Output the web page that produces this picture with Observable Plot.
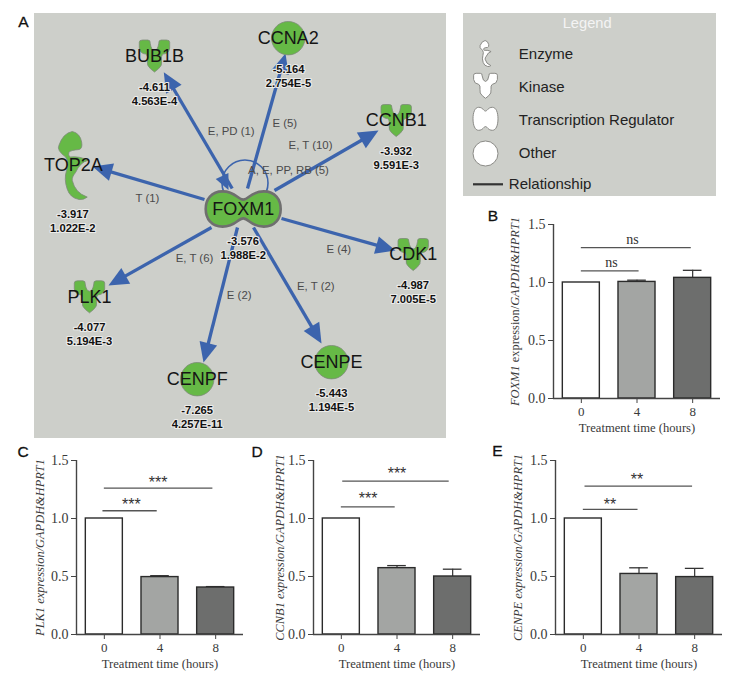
<!DOCTYPE html>
<html><head><meta charset="utf-8">
<script src="https://cdn.jsdelivr.net/npm/d3@7"></script>
<script src="https://cdn.jsdelivr.net/npm/@observablehq/plot@0.6"></script>
<style>
html,body{margin:0;padding:0;background:#fff}
#root{position:relative;width:734px;height:682px;overflow:hidden}
#root>svg,#root>div{position:absolute}
.letter{font:15.5px "Liberation Sans";color:#111;transform:translate(-50%,-50%);-webkit-text-stroke:.3px #111}
</style></head><body><div id="root"></div>
<script>
// ---- Network data (layout) ----
const nodeNames = ["BUB1B","CCNA2","CCNB1","TOP2A","PLK1","CDK1","CENPF","CENPE","FOXM1"];
const nodeType  = ["kinase","other","kinase","enzyme","kinase","kinase","other","other","tf"];
const nodeX = [154,287.7,395.7,72.8,89,412.7,196.7,331,242.7];
const nodeY = [55.5,37.7,120,165,296.3,254,378.7,361.7,208.5];
const foldChange = ["-4.611","-5.164","-3.932","-3.917","-4.077","-4.987","-7.265","-5.443","-3.576"];
const pValue = ["4.563E-4","2.754E-5","9.591E-3","1.022E-2","5.194E-3","7.005E-5","4.257E-11","1.194E-5","1.988E-2"];
const valueX = [154,288,395.7,72.3,89,412.7,196.7,331,242.7];
const valueY = [86.7,69.3,151,214,327.3,285.3,410,393.3,240.7];
const edgeTailX = [231.7,247,274,204,211,281,237,253];
const edgeTailY = [188,188,190,199,227,218,227,227];
const edgeTipX  = [163.3,285,378,92,108,395,203,321];
const edgeTipY  = [71.7,53,130,166,285,250,362,343];
const edgeLabels = ["E, PD (1)","E (5)","E, T (10)","A, E, PP, RB (5)","T (1)","E, T (6)","E (2)","E, T (2)","E (4)"];
const edgeLabelX = [230.7,284.3,310,288,147,194,238.7,315.3,338.3];
const edgeLabelY = [131.3,123,145.3,170.3,198,258.3,294.7,285.7,249];
const loopCenter = [244.5,182.5];
const loopHead = [228,189.5,220,172]; // tip x,y and a point the head comes from

// ---- Legend ----
const legendItems = ["Enzyme","Kinase","Transcription Regulator","Other"];
const legendKinds = ["enzyme","kinase","tfLegend","other"];
const legendY = [53.3,86.7,119.3,152.7];
const legendIconY = [52.7,85,118,152.7];

// ---- Bar panels ----
const hours = [0,4,8];
const fills = ["#ffffff","#a3a5a3","#6d6e6d"];
const panelB = {means:[1,1.005,1.04], errs:[0,0.015,0.065]};
const panelC = {means:[1,0.495,0.405], errs:[0,0.012,0.008]};
const panelD = {means:[1,0.572,0.5], errs:[0,0.022,0.063]};
const panelE = {means:[1,0.522,0.495], errs:[0,0.053,0.075]};
const bracketsB = [[0,4.15,1.1],[0,7.9,1.3]];
const bracketsC = [[-0.1,3.8,1.067],[0,7.8,1.262]];
const bracketsD = [[0,3.87,1.101],[0.1,7.75,1.322]];
const bracketsE = [[0,3.93,1.078],[0.12,7.85,1.279]];
const sigB = [["ns",2.16,1.17],["ns",3.67,1.371]];
const sigC = [["***",1.94,1.141],["***",3.86,1.336]];
const sigD = [["***",1.92,1.193],["***",4,1.408]];
const sigE = [["**",1.92,1.147],["**",3.86,1.357]];
const yTicks = [0,0.5,1,1.5];
const xTitle = "Treatment time (hours)";

// ---- Symbols ----
const root = document.getElementById("root");
function sym(fn){return {draw(c,size){fn(c,Math.sqrt(size/Math.PI));}};}
const kinase = sym((c,r)=>{
  const q=(a,b,x,y)=>c.quadraticCurveTo(a*r,b*r,x*r,y*r);
  c.moveTo(-.95*r,-.85*r);q(-.95,-1,-.75,-1);c.lineTo(-.42*r,-1*r);q(-.25,-1,-.27,-.8);q(-.2,-.35,0,-.35);
  q(.2,-.35,.27,-.8);q(.25,-1,.42,-1);c.lineTo(.75*r,-1*r);q(.95,-1,.95,-.85);c.lineTo(.95*r,-.5*r);
  q(.9,-.15,.55,-.12);q(.4,-.05,.44,.3);q(.5,.6,.25,.8);c.lineTo(0,r);c.lineTo(-.25*r,.8*r);
  q(-.5,.6,-.44,.3);q(-.4,-.05,-.55,-.12);q(-.9,-.15,-.95,-.5);c.closePath();
});
const enzyme = sym((c,r)=>{
  const q=(a,b,x,y)=>c.quadraticCurveTo(a*r,b*r,x*r,y*r);
  c.moveTo(-.03*r,-1*r);q(.2,-.95,.245,-.69);q(.28,-.5,.17,-.47);q(-.08,-.45,-.13,-.39);
  q(-.16,-.3,-.1,-.25);q(.2,-.28,.43,-.15);q(.2,-.1,.07,.2);q(-.05,.35,-.03,.44);q(.05,.8,.41,.93);
  q(.3,1.02,.17,1);q(-.1,.95,-.18,.69);q(-.28,.4,-.2,.15);q(-.12,-.1,-.225,-.25);q(-.5,-.45,-.42,-.6);q(-.3,-.95,-.03,-1);c.closePath();
});
function peanut(h,n){return sym((c,r)=>{
  const b=(a,d,e,f,x,y)=>c.bezierCurveTo(a*r,d*r,e*r,f*r,x*r,y*r);
  c.moveTo(0,-n*r);b(.15,-n,.2,-h,.55,-h);b(.85,-h,1,-h*.55,1,0);b(1,h*.55,.85,h,.55,h);b(.2,h,.15,n,0,n);
  b(-.15,n,-.2,h,-.55,h);b(-.85,h,-1,h*.55,-1,0);b(-1,-h*.55,-.85,-h,-.55,-h);b(-.2,-h,-.15,-n,0,-n);c.closePath();
});}
const foxm1Shape = peanut(.47,.25), tfLegend = peanut(.92,.62);
const head = sym((c,r)=>{c.moveTo(0,0);c.lineTo(-.5*r,1.1*r);c.lineTo(.5*r,1.1*r);c.closePath();});
const smallHead = head;
const idx = nodeNames.map((_,i)=>i);
const GREEN="#66b946", OUT="#7d8a78", BLUE="#3c64ad";

// ---- Panel A ----
function nodeMark(kind,symbol,r,extra={}){
  return Plot.dot(idx.filter(i=>nodeType[i]===kind),{x:i=>nodeX[i],y:i=>nodeY[i],symbol,r,fill:GREEN,stroke:OUT,strokeWidth:.8,...extra});
}
const edges = edgeTipX.map((_,i)=>i);
const angle=i=>Math.atan2(edgeTipX[i]-edgeTailX[i],-(edgeTipY[i]-edgeTailY[i]))*180/Math.PI;
const panelA = Plot.plot({
  width:412,height:425,margin:0,axis:null,
  x:{domain:[34,446],range:[0,412]},y:{domain:[13,438],range:[0,425]},
  style:{background:"#cdcfca",fontFamily:"Liberation Sans"},
  marks:[
    Plot.link(edges,{x1:i=>edgeTailX[i],y1:i=>edgeTailY[i],x2:i=>edgeTipX[i]-(edgeTipX[i]-edgeTailX[i])*0.05,y2:i=>edgeTipY[i]-(edgeTipY[i]-edgeTailY[i])*0.05,stroke:BLUE,strokeWidth:3.3}),
    Plot.dot(edges,{x:i=>edgeTipX[i],y:i=>edgeTipY[i],symbol:head,r:18,rotate:angle,fill:BLUE}),
    Plot.dot([0],{x:()=>loopCenter[0],y:()=>loopCenter[1],r:23,stroke:BLUE,strokeWidth:1.6,fill:"none"}),
    Plot.dot([0],{x:()=>loopHead[0],y:()=>loopHead[1],symbol:smallHead,r:14,rotate:()=>Math.atan2(loopHead[0]-loopHead[2],-(loopHead[1]-loopHead[3]))*180/Math.PI,fill:BLUE}),
    nodeMark("kinase",kinase,16),
    nodeMark("other","circle",16.7),
    nodeMark("enzyme",enzyme,34),
    nodeMark("tf",foxm1Shape,37.5,{stroke:"#6f6f6f",strokeWidth:2.6}),
    Plot.text(idx,{x:i=>nodeX[i],y:i=>nodeY[i],text:i=>nodeNames[i],fontSize:18,fill:"#151515"}),
    Plot.text(idx,{x:i=>valueX[i],y:i=>valueY[i],text:i=>foldChange[i],fontSize:11.2,fontWeight:"bold",fill:"#111",stroke:"#ececea",strokeWidth:2.2,paintOrder:"stroke"}),
    Plot.text(idx,{x:i=>valueX[i],y:i=>valueY[i]+14,text:i=>pValue[i],fontSize:11.2,fontWeight:"bold",fill:"#111",stroke:"#ececea",strokeWidth:2.2,paintOrder:"stroke"}),
    Plot.text(edgeLabels,{x:(d,i)=>edgeLabelX[i],y:(d,i)=>edgeLabelY[i],text:d=>d,fontSize:11.4,fill:"#4a4a4a"})
  ]
});
panelA.style.cssText+=";left:34px;top:13px;";
root.append(panelA);

// ---- Legend panel ----
const kindSym={enzyme,kinase,tfLegend,other:"circle"}, kindR={enzyme:13,kinase:12.5,tfLegend:12.5,other:12.5};
const legend = Plot.plot({
  width:253,height:183,margin:0,axis:null,
  x:{domain:[463,716],range:[0,253]},y:{domain:[12.7,195.7],range:[0,183]},
  style:{background:"#cdcfca",fontFamily:"Liberation Sans"},
  marks:[
    Plot.text(["Legend"],{x:()=>586.7,y:()=>22,text:d=>d,fontSize:14.7,fill:"#f4f4f4"}),
    ...legendKinds.map((k,i)=>Plot.dot([k],{x:()=>485,y:()=>legendIconY[i],symbol:kindSym[k],r:kindR[k],fill:"#fff",stroke:"#8a8a86",strokeWidth:1})),
    Plot.text(legendItems,{x:()=>518.3,y:(d,i)=>legendY[i],text:d=>d,textAnchor:"start",fontSize:15,fill:"#222"}),
    Plot.ruleY([183.5],{x1:473,x2:503,stroke:"#333",strokeWidth:2.2}),
    Plot.text(["Relationship"],{x:()=>508.3,y:()=>183.3,text:d=>d,textAnchor:"start",fontSize:15,fill:"#222"})
  ]
});
legend.style.cssText+=";left:463px;top:13px;";
root.append(legend);

// ---- Bar panels ----
function barPanel({data,brackets,sig,parts,left,top,labelDx,stroke=1.4}){
  const rows=hours.map((h,i)=>({h,m:data.means[i],e:data.errs[i],f:fills[i]}));
  const withErr=rows.filter(r=>r.e>0);
  const w=1.33, cap=.67;
  const stars=sig[0][0]!=="ns";
  const p=Plot.plot({
    width:212,height:228,marginLeft:45,marginRight:0,marginTop:10,marginBottom:44,
    x:{domain:[-2,10]},
    y:{domain:[0,1.5]},
    style:{fontFamily:"Liberation Serif",fontSize:"13px",color:"#3a3a3a",overflow:"visible"},
    marks:[
      Plot.axisY({ticks:yTicks,tickFormat:".1f",tickSize:5,tickPadding:3,label:null,fontSize:14,stroke:"#444"}),
      Plot.axisX({ticks:hours,tickFormat:d=>d,tickSize:5,tickPadding:3,label:null,fontSize:13,stroke:"#444"}),
      Plot.text([xTitle],{x:4,frameAnchor:"bottom",dy:33,text:d=>d,fontSize:12.6,letterSpacing:"0.35px"}),
      Plot.ruleX(withErr,{x:"h",y1:"m",y2:d=>d.m+d.e,stroke:"#333",strokeWidth:1.2}),
      Plot.ruleY(withErr,{y:d=>d.m+d.e,x1:d=>d.h-cap,x2:d=>d.h+cap,stroke:"#333",strokeWidth:1.3}),
      Plot.rectY(rows,{x1:d=>d.h-w,x2:d=>d.h+w,y1:0,y2:"m",fill:"f",stroke:"#2b2b2b",strokeWidth:stroke}),
      Plot.ruleX([-2],{stroke:"#444",strokeWidth:1.4}),
      Plot.ruleY([0],{stroke:"#444",strokeWidth:1.4}),
      Plot.ruleY(brackets,{y:d=>d[2],x1:d=>d[0],x2:d=>d[1],stroke:"#555",strokeWidth:1.3}),
      Plot.text(sig,{x:d=>d[1],y:d=>d[2],text:d=>d[0],fontSize:stars?16:14,fill:"#333",letterSpacing:stars?"2px":"1px",dy:stars?3:0,fontFamily:stars?"Liberation Sans":"Liberation Serif"}),
      Plot.text(["ylabel"],{frameAnchor:"left",textAnchor:"middle",dx:labelDx,rotate:-90,text:d=>d,className:"ylab",fontSize:12.4})
    ]
  });
  // Gene names in italics inside the axis title
  const t=d3.select(p).select(".ylab text");
  t.text(null).attr("fill","#3a3a3a");
  parts.forEach(([s,it])=>t.append("tspan").attr("font-style",it?"italic":"normal").text(s));
  p.style.cssText+=`;left:${left}px;top:${top}px;overflow:visible;`;
  root.append(p);
}
barPanel({data:panelB,brackets:bracketsB,sig:sigB,left:508,top:214.3,labelDx:-38,parts:[["FOXM1",1],[" expression/",0],["GAPDH&HPRT1",1]]});
barPanel({data:panelC,brackets:bracketsC,sig:sigC,left:31,top:449.5,labelDx:-36,parts:[["PLK1 expression/GAPDH&HPRT1",1]]});
barPanel({data:panelD,brackets:bracketsD,sig:sigD,left:268.3,top:449.5,labelDx:-33,parts:[["CCNB1 expression/GAPDH&HPRT1",1]]});
barPanel({data:panelE,brackets:bracketsE,sig:sigE,left:510.3,top:449.5,labelDx:-37,parts:[["CENPE expression/GAPDH&HPRT1",1]]});

// ---- Panel letters ----
[["A",23.3,22.3],["B",493,215.7],["C",23,451.7],["D",257,452],["E",497.3,451]].forEach(([s,x,y])=>{
  const d=document.createElement("div");d.className="letter";d.textContent=s;d.style.left=x+"px";d.style.top=y+"px";root.append(d);
});
</script></body></html>
